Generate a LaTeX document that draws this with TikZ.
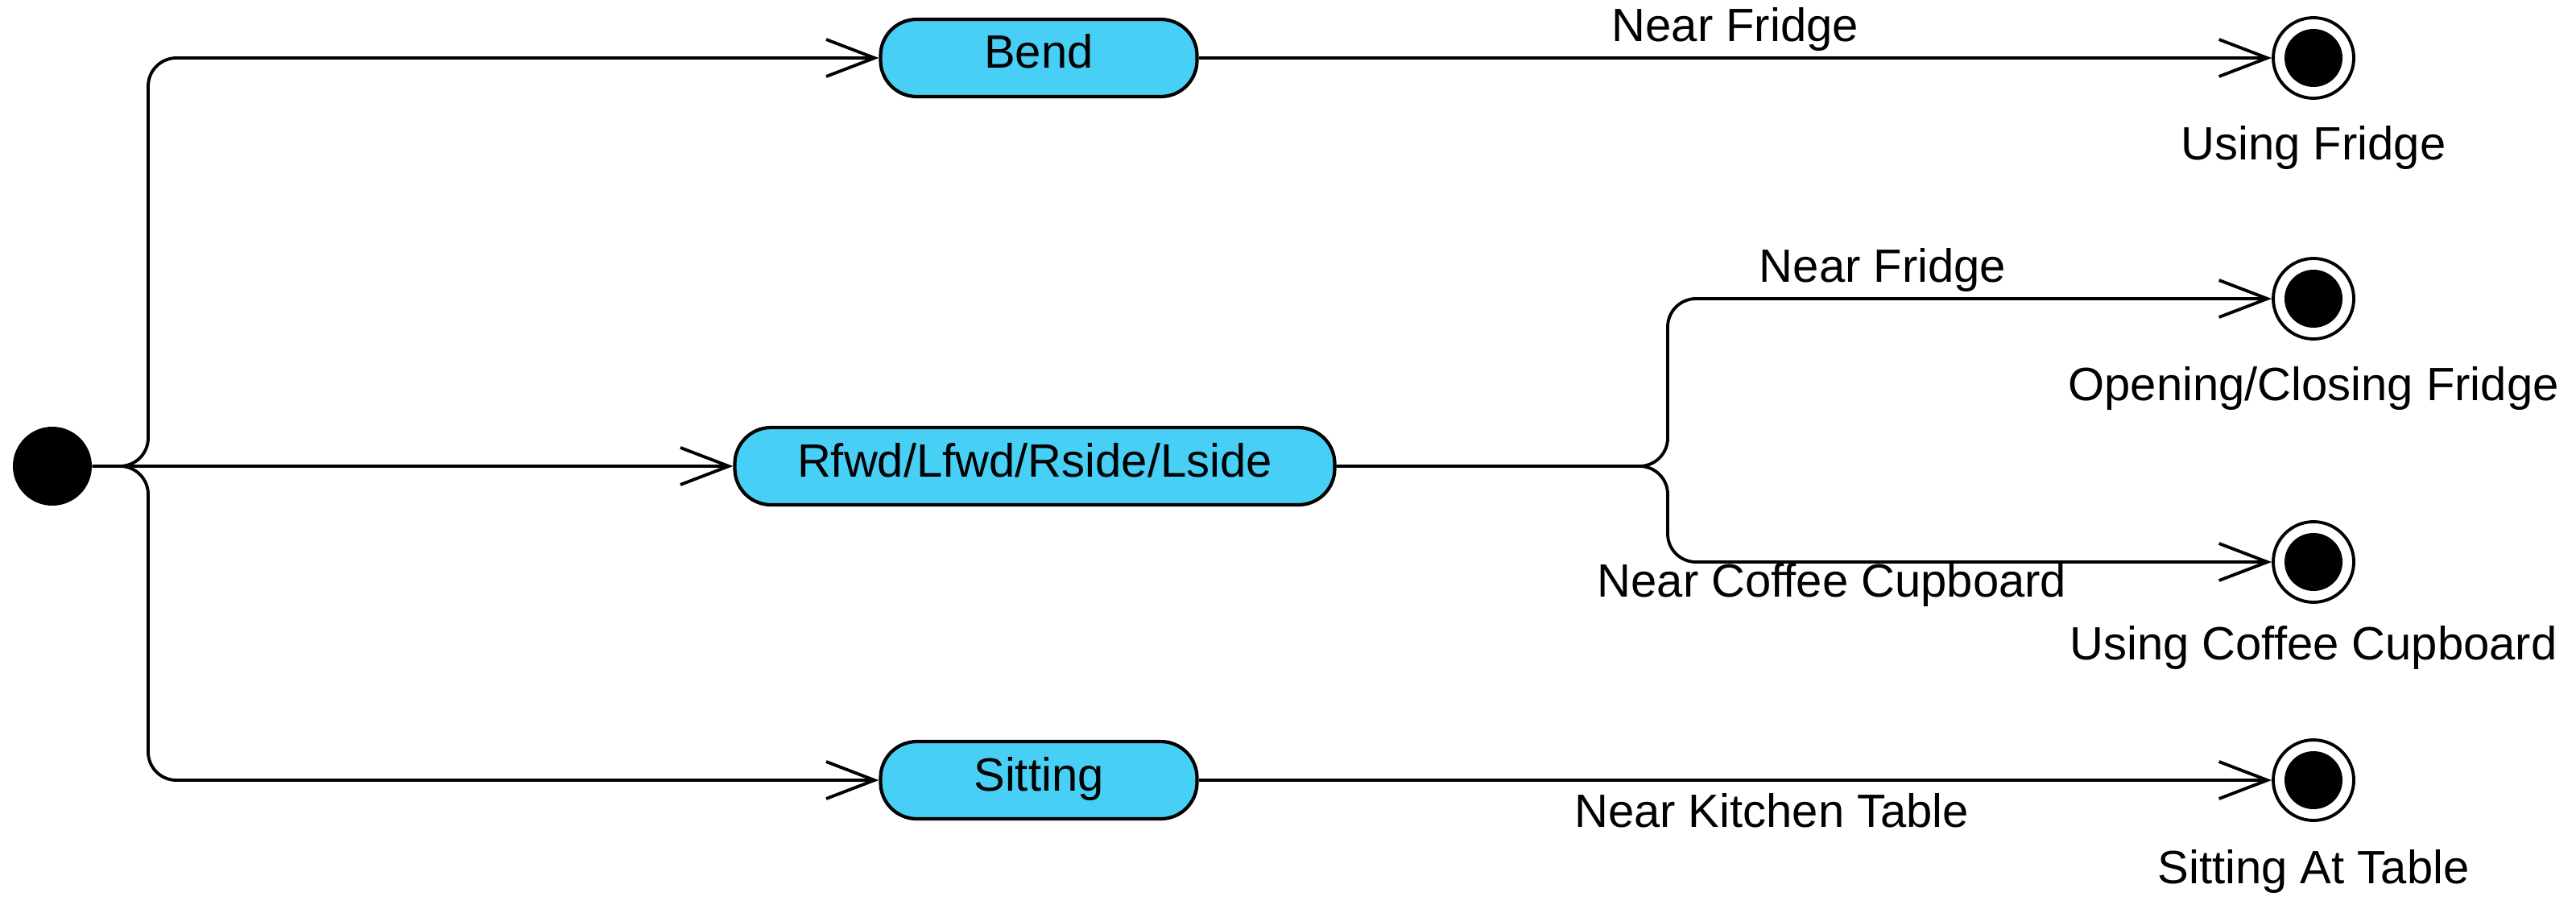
\documentclass[tikz,border=0pt]{standalone}
\usepackage{fontspec}
\setmainfont{Liberation Sans}
\usetikzlibrary{arrows.meta,positioning}
\definecolor{statecyan}{RGB}{71,207,245}
\begin{document}
\begin{tikzpicture}[font=\fontsize{16.5}{19}\selectfont,
    >={Straight Barb[length=6mm,width=4.6mm]},
    state/.style={draw, fill=statecyan, line width=1.2pt, rounded corners=0.45cm,
        minimum height=0.96cm, text height=0.45cm, text depth=0.19cm},
    trans/.style={->, line width=1.1pt, rounded corners=0.35cm},
    initial/.style={circle, fill=black, minimum size=0.98cm, inner sep=0pt},
    final/.style={circle, draw, line width=1.1pt, fill=white, minimum size=1cm, inner sep=0pt,
        path picture={\fill[black] (path picture bounding box.center) circle (0.36cm);}},
    lbl/.style={inner sep=2pt}]
    \useasboundingbox (0,0) rectangle (31.99,-11.29);
    % States
    \node[initial] (init) at (0.65,-5.79) {};
    \node[state, minimum width=3.93cm] (bend) at (12.9,-0.72) {Bend};
    \node[state, minimum width=7.45cm] (walk) at (12.85,-5.79) {Rfwd/Lfwd/Rside/Lside};
    \node[state, minimum width=3.93cm] (sit) at (12.9,-9.69) {Sitting};
    % Final states
    \node[final] (fridge) at (28.73,-0.72) {};
    \node[final] (opening) at (28.73,-3.71) {};
    \node[final] (coffee) at (28.73,-6.98) {};
    \node[final] (table) at (28.73,-9.69) {};
    \node[lbl, below=0.25cm of fridge] (fridgelbl) {Using Fridge};
    \node[lbl, below=0.25cm of opening] (openinglbl) {Opening/Closing Fridge};
    \node[lbl, below=0.2cm of coffee] (coffeelbl) {Using Coffee Cupboard};
    \node[lbl, below=0.27cm of table] (tablelbl) {Sitting At Table};
    % Forks
    \coordinate (fork1) at (1.84,-5.79);
    \coordinate (fork2) at (20.71,-5.79);
    % Transitions
    \draw[trans] (init.east) -- (fork1) |- (bend.west);
    \draw[trans] (init.east) -- (walk.west);
    \draw[trans] (init.east) -- (fork1) |- (sit.west);
    \draw[trans] (bend.east) -- node[above, lbl] {Near Fridge} (fridge.west);
    \draw[trans] (walk.east) -- (fork2) |- node[above, lbl, pos=0.678] {Near Fridge} (opening.west);
    \draw[trans] (walk.east) -- (fork2) |- node[below, inner sep=0pt, pos=0.636] {Near Coffee Cupboard} (coffee.west);
    \draw[trans] (sit.east) -- node[below=0.08cm, lbl, pos=0.534] {Near Kitchen Table} (table.west);
\end{tikzpicture}
\end{document}
